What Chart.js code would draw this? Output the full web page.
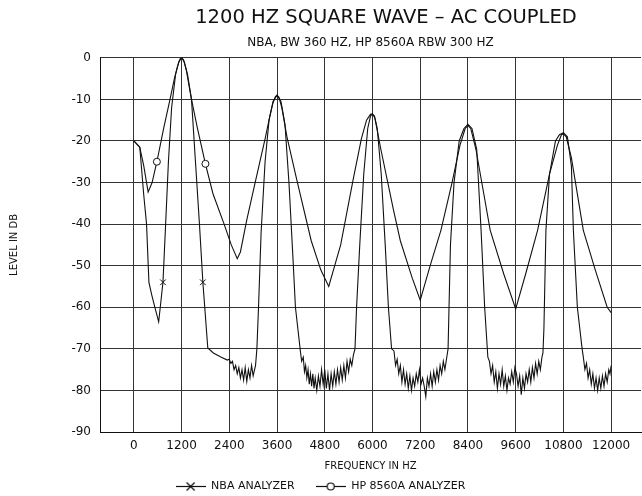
<!DOCTYPE html>
<html>
<head>
<meta charset="utf-8">
<title>1200 Hz square wave - AC coupled</title>
<script src="https://cdn.jsdelivr.net/npm/chart.js@4.4.0/dist/chart.umd.min.js"></script>
<style>
    html, body { margin: 0; padding: 0; background: #fff; }
</style>
</head>
<body>
<canvas id="spectrumChart" width="642" height="496"></canvas>
<script>
// values (frequency in Hz, level in dB)

var hpFreq = [0, 150, 250, 360, 460, 580, 750, 910, 1020, 1100,
    1160, 1200, 1250, 1320, 1450, 1600, 1800, 1990, 2270, 2450,
    2600, 2680, 2840, 3050, 3300, 3420, 3500, 3560, 3600, 3650,
    3720, 3850, 4100, 4460, 4700, 4900, 5200, 5510, 5720, 5850,
    5950, 6000, 6060, 6210, 6530, 6700, 7000, 7200, 7450, 7720,
    8000, 8200, 8330, 8400, 8470, 8600, 8960, 9300, 9600, 9850,
    10150, 10450, 10650, 10750, 10800, 10870, 11000, 11300, 11600, 11900,
    12000];
var hpLevel = [-20, -21.5, -26, -32.3, -30, -25, -17, -10, -5, -2,
    -0.3, 0, -0.5, -3, -10, -17, -25.5, -32.7, -40, -45,
    -48.3, -46.7, -39, -30, -19.5, -14, -10.8, -9.3, -9, -9.5,
    -12, -19, -29.5, -44, -51, -55, -45, -29.5, -19.5, -15,
    -13.6, -13.5, -14.5, -22, -36.7, -44, -53, -58.3, -50, -41.5,
    -30, -21, -17, -16.3, -17, -22, -41.5, -52, -60.4, -52,
    -41.5, -28, -21, -18.5, -18.3, -19, -24, -41.5, -51, -60,
    -61.3];
var hpMarkerFreq = [580, 1800];

var nbaFreq = [0, 150, 250, 320, 380, 450, 530, 625, 733, 800,
    870, 950, 1050, 1130, 1200, 1270, 1350, 1450, 1550, 1650,
    1736, 1860, 2000, 2200, 2350,
    2400, 2440, 2480, 2520, 2560, 2600, 2640, 2680, 2720, 2760,
    2800, 2840, 2880, 2920, 2960, 3000, 3060,
    3094, 3135, 3200, 3300, 3400, 3500, 3600, 3700, 3800, 3900,
    4000, 4063, 4190,
    4220, 4260, 4290, 4320, 4350, 4380, 4410, 4440, 4470, 4500,
    4530, 4560, 4600, 4640, 4680, 4720, 4760, 4800, 4840, 4880,
    4920, 4960, 5000, 5040, 5080, 5120, 5160, 5200, 5240, 5280,
    5320, 5360, 5400, 5440, 5480, 5520,
    5560, 5600, 5680, 5780, 5880, 5950, 6000, 6050, 6120, 6220,
    6320, 6400, 6480, 6540,
    6580, 6620, 6660, 6700, 6740, 6780, 6820, 6860, 6900, 6940,
    6980, 7020, 7060, 7100, 7140, 7180, 7220, 7260, 7300, 7340,
    7380, 7420, 7460, 7500, 7540, 7580, 7620, 7660, 7700, 7740,
    7780, 7820, 7860,
    7900, 7960, 8050, 8180, 8300, 8400, 8500, 8620, 8730, 8820,
    8900,
    8940, 8980, 9020, 9060, 9100, 9140, 9180, 9220, 9260, 9300,
    9340, 9380, 9420, 9460, 9500, 9540, 9580, 9620, 9660, 9700,
    9740, 9780, 9820, 9860, 9900, 9940, 9980, 10020, 10060, 10100,
    10140, 10180, 10220, 10260, 10285,
    10310, 10360, 10450, 10600, 10700, 10800, 10900, 11000, 11050, 11150,
    11270,
    11300, 11340, 11380, 11420, 11460, 11500, 11540, 11580, 11620, 11660,
    11700, 11740, 11780, 11820, 11860, 11900, 11940, 11970, 12000];
var nbaLevel = [-20, -21.5, -33, -40, -54, -57, -60, -63.5, -54, -40,
    -25, -12, -4, -1, 0, -1, -4, -10, -25, -40,
    -54, -69.8, -71, -72, -72.7,
    -72.5, -73.5, -73, -75, -74, -76, -74.5, -77, -75, -77.5,
    -74.5, -77.8, -75, -77, -74, -76.5, -74,
    -70, -60, -42, -25, -15, -10.5, -9, -10.5, -16, -30,
    -48, -60, -70.8,
    -73, -72, -75.5, -74, -77, -75, -78.5, -76, -79, -76,
    -79.5, -77, -80, -76.5, -79, -75, -78.5, -75, -79.5, -76,
    -80, -76, -79, -75.5, -78.5, -75, -78, -74.5, -77.5, -74,
    -77, -73, -75.5, -72.5, -74, -71.5,
    -70, -60, -45, -28, -17, -14, -13.5, -14, -17, -28,
    -45, -60, -70, -70.5,
    -74, -72.5, -76, -74, -78, -75, -78.5, -76, -79.5, -76.5,
    -80, -77, -79, -76, -78, -75, -78.5, -77, -79, -81.5,
    -77, -79, -76, -79, -75.5, -78, -75, -77.5, -74, -76,
    -73, -75, -72.5,
    -70, -45, -30, -20, -17, -16, -17, -22, -41.5, -60,
    -72,
    -73, -76, -74, -78, -75.5, -79.5, -76, -78.5, -75, -79,
    -76.5, -80, -77, -78.5, -75.5, -78, -74.5, -76, -79, -76.5,
    -81, -77, -79.5, -76, -78, -75, -78, -74.5, -77, -73.5,
    -76, -73, -75, -72, -71,
    -65, -41.5, -28, -20, -18.5, -18, -19, -26, -41.5, -60,
    -70,
    -72, -75, -73.5, -77, -75, -78.5, -76, -79.5, -77, -80,
    -77, -79.5, -76.5, -79, -76, -78, -75, -76, -74];
var nbaMarkerFreq = [733, 1736];

var xTickValues = [0, 1200, 2400, 3600, 4800, 6000, 7200, 8400, 9600, 10800, 12000];
var yTickValues = [0, -10, -20, -30, -40, -50, -60, -70, -80, -90];

var ink = '#111';
var face = 'DejaVu Sans';

function toPoints(freqs, levels) {
    return freqs.map(function (f, i) { return { x: f, y: levels[i] }; });
}

function markerRadius(markers, size) {
    return function (ctx) {
        return ctx.raw && markers.indexOf(ctx.raw.x) >= 0 ? size : 0;
    };
}

// small line-with-symbol pictures for the legend
function legendIcon(kind) {
    var c = document.createElement('canvas');
    c.width = 30;
    c.height = 11;
    var g = c.getContext('2d');
    g.strokeStyle = ink;
    g.lineWidth = 1.2;
    g.beginPath();
    g.moveTo(0, 5.5);
    g.lineTo(30, 5.5);
    g.stroke();
    if (kind === 'x') {
        g.beginPath();
        g.moveTo(11, 1.5); g.lineTo(19, 9.5);
        g.moveTo(19, 1.5); g.lineTo(11, 9.5);
        g.stroke();
    } else {
        g.fillStyle = '#fff';
        g.beginPath();
        g.arc(15, 5.5, 3.5, 0, Math.PI * 2);
        g.fill();
        g.stroke();
    }
    return c;
}
var legendIcons = [legendIcon('x'), legendIcon('o')];

var nbaSeries = {
    label: 'NBA ANALYZER',
    data: toPoints(nbaFreq, nbaLevel),
    borderColor: ink,
    borderWidth: 1.1,
    fill: false,
    tension: 0,
    pointStyle: 'crossRot',
    pointRadius: markerRadius(nbaMarkerFreq, 4),
    pointHoverRadius: 0,
    pointBorderColor: ink,
    pointBorderWidth: 1
};

var hpSeries = {
    label: 'HP 8560A ANALYZER',
    data: toPoints(hpFreq, hpLevel),
    borderColor: ink,
    borderWidth: 1.1,
    fill: false,
    tension: 0,
    pointStyle: 'circle',
    pointRadius: markerRadius(hpMarkerFreq, 3.5),
    pointHoverRadius: 0,
    pointBackgroundColor: '#fff',
    pointBorderColor: ink,
    pointBorderWidth: 1
};

var config = {
    type: 'line',
    data: { datasets: [nbaSeries, hpSeries] },
    options: {
        responsive: false,
        animation: false,
        layout: { padding: { left: 0, right: 1, top: 0, bottom: -6 } },
        scales: {
            x: {
                type: 'linear',
                min: -850,
                max: 12750,
                afterBuildTicks: function (axis) {
                    axis.ticks = xTickValues.map(function (v) { return { value: v }; });
                },
                afterFit: function (axis) { axis.height = 49; },
                grid: { color: '#333', lineWidth: 1, drawTicks: false },
                border: { display: true, color: ink, width: 1 },
                ticks: {
                    padding: 7,
                    color: ink,
                    maxRotation: 0,
                    autoSkip: false,
                    font: { family: face, size: 12 },
                    callback: function (v) { return String(v); }
                },
                title: {
                    display: true,
                    text: 'FREQUENCY IN HZ',
                    color: ink,
                    font: { family: face, size: 10 },
                    padding: { top: 4, bottom: 9 }
                }
            },
            y: {
                min: -90,
                max: 0,
                afterBuildTicks: function (axis) {
                    axis.ticks = yTickValues.map(function (v) { return { value: v }; });
                },
                afterFit: function (axis) { axis.width = 100; },
                grid: { color: '#333', lineWidth: 1, drawTicks: false },
                border: { display: true, color: ink, width: 1 },
                ticks: {
                    padding: 9,
                    color: ink,
                    font: { family: face, size: 12 }
                },
                title: {
                    display: true,
                    text: 'LEVEL IN DB',
                    color: ink,
                    font: { family: face, size: 10 },
                    padding: { top: 8 }
                }
            }
        },
        plugins: {
            title: {
                display: true,
                text: '     1200 HZ SQUARE WAVE \u2013 AC COUPLED',
                fullSize: false,
                color: ink,
                font: { family: face, size: 19.5, weight: 'normal' },
                padding: { top: 6, bottom: 3 }
            },
            subtitle: {
                display: true,
                text: 'NBA, BW 360 HZ, HP 8560A RBW 300 HZ',
                fullSize: false,
                color: ink,
                font: { family: face, size: 12 },
                padding: { top: 3, bottom: 8 }
            },
            legend: {
                position: 'bottom',
                labels: {
                    color: ink,
                    font: { family: face, size: 11 },
                    padding: 0,
                    usePointStyle: true,
                    pointStyleWidth: 30,
                    boxHeight: 10,
                    generateLabels: function (chart) {
                        var items = Chart.defaults.plugins.legend.labels.generateLabels(chart);
                        items.forEach(function (item, i) {
                            item.pointStyle = legendIcons[i];
                            if (i === 0) item.text = item.text + '      ';
                        });
                        return items;
                    }
                }
            },
            tooltip: { enabled: false }
        }
    }
};

var ctx = document.getElementById('spectrumChart').getContext('2d');
var chart = new Chart(ctx, config);
</script>
</body>
</html>
